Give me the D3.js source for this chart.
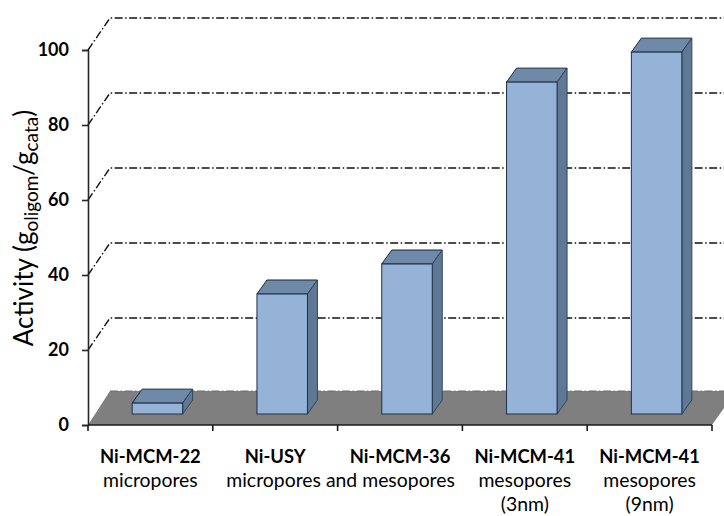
<!DOCTYPE html>
<html>
<head>
<meta charset="utf-8">
<script src="https://cdn.jsdelivr.net/npm/d3@7"></script>
<style>
html,body{margin:0;padding:0;background:#fff}
svg{display:block}
text{font-family:Lato,"Open Sans",sans-serif;fill:#000}
</style>
</head>
<body>
<svg id="chart" width="724" height="516"></svg>
<script>
const catalysts = ["Ni-MCM-22", "Ni-USY", "Ni-MCM-36", "Ni-MCM-41", "Ni-MCM-41"];
const poreLines = [["micropores"], [], [], ["mesopores", "(3nm)"], ["mesopores", "(9nm)"]];
const sharedPoreLabel = "micropores and mesopores";
const activity = [2.9, 32, 40, 88.5, 96.5];
const yTicks = [0, 20, 40, 60, 80, 100];

const svg = d3.select("#chart");
const x = d3.scaleBand().domain(d3.range(catalysts.length)).range([88, 712]);
const y = d3.scaleLinear().domain([0, 100]).range([425, 50]);

// Oblique projection: wall depth, and half-depth placement of the columns
const wall = {dx: 22, dy: -32};
const col = {dx: 10, dy: -14, baseX: 7, baseY: -11, width: 50.5};

// Floor
svg.append("polygon")
  .attr("points", [[88, y(0)], [88 + wall.dx, y(0) + wall.dy - 2], [740, y(0) + wall.dy - 2], [724, 408], [712, y(0)]].join(" "))
  .attr("fill", "#7f7f7f");
svg.append("line")
  .attr("x1", 88 + wall.dx).attr("x2", 724)
  .attr("y1", y(0) + wall.dy - 2).attr("y2", y(0) + wall.dy - 2)
  .attr("stroke", "#6d6d6d").attr("stroke-width", 1).attr("stroke-dasharray", "8 2.5 1.5 2.5");

// Dash-dot gridlines bent along the side wall and running across the back wall
const gridPath = v => `M88,${y(v)}L${88 + wall.dx},${y(v) + wall.dy}H724`;
svg.append("g").selectAll("path")
  .data(yTicks.filter(v => v > 0))
  .join("path")
  .attr("d", gridPath)
  .attr("fill", "none")
  .attr("stroke", "#111")
  .attr("stroke-width", 1.4)
  .attr("stroke-dasharray", "8 2.5 1.5 2.5");

// Columns: top, side, front
const bars = svg.append("g").selectAll("g")
  .data(activity)
  .join("g");
const left = (d, i) => x(i) + (x.bandwidth() - col.width) / 2 + col.baseX;
const base = y(0) + col.baseY;
const topY = d => base - (y(0) - y(d));

bars.append("polygon")
  .attr("points", (d, i) => {
    const l = left(d, i), r = l + col.width, t = topY(d);
    return [[l, t], [l + col.dx, t + col.dy], [r + col.dx, t + col.dy], [r, t]].join(" ");
  })
  .attr("fill", "#6f89a9").attr("stroke", "#16283c").attr("stroke-width", 1);
bars.append("polygon")
  .attr("points", (d, i) => {
    const r = left(d, i) + col.width, t = topY(d);
    return [[r, t], [r + col.dx, t + col.dy], [r + col.dx, base + col.dy], [r, base]].join(" ");
  })
  .attr("fill", "#5f7896").attr("stroke", "#33465c").attr("stroke-width", 1);
bars.append("rect")
  .attr("x", (d, i) => left(d, i))
  .attr("y", d => topY(d))
  .attr("width", col.width)
  .attr("height", d => base - topY(d))
  .attr("fill", "#95b3d7").attr("stroke", "#1f3147").attr("stroke-width", 1);

// Axes
const yAxis = d3.axisLeft(y).tickValues(yTicks).tickSize(6).tickPadding(13);
const gy = svg.append("g").attr("transform", "translate(88,0)").call(yAxis);
gy.selectAll("path,line").attr("stroke", "#262626").attr("stroke-width", 1.6);
gy.selectAll("text").attr("font-size", 18).attr("font-weight", 700).attr("fill", "#000").attr("font-family", "Lato");

const xEdges = d3.range(catalysts.length + 1).map(i => 88 + i * x.step());
const gx = svg.append("g");
gx.append("line").attr("x1", 88).attr("x2", 712).attr("y1", y(0)).attr("y2", y(0))
  .attr("stroke", "#1a1a1a").attr("stroke-width", 1.6);
gx.selectAll("line.tick").data(xEdges).join("line").attr("class", "tick")
  .attr("x1", d => d).attr("x2", d => d).attr("y1", y(0)).attr("y2", y(0) + 6)
  .attr("stroke", "#1a1a1a").attr("stroke-width", 1.6);

// Category labels
const labels = svg.append("g").attr("text-anchor", "middle");
catalysts.forEach((name, i) => {
  const cx = x(i) + x.bandwidth() / 2;
  labels.append("text").attr("x", cx).attr("y", 463).attr("font-size", 18.4).attr("font-weight", 700).text(name);
  poreLines[i].forEach((line, j) => {
    labels.append("text").attr("x", cx).attr("y", 487 + j * 24).attr("font-size", 19.4).text(line);
  });
});
// One pore description shared by the second and third catalysts
labels.append("text")
  .attr("x", x(2) + 3).attr("y", 487).attr("font-size", 19.4)
  .text(sharedPoreLabel);

// Axis title with subscripts
const title = svg.append("text")
  .attr("transform", "translate(33,228) rotate(-90)")
  .attr("text-anchor", "middle")
  .attr("font-size", 26);
title.append("tspan").text("Activity (g");
title.append("tspan").attr("font-size", 19).attr("dy", 5).text("oligom");
title.append("tspan").attr("dy", -5).text("/g");
title.append("tspan").attr("font-size", 19).attr("dy", 5).text("cata");
title.append("tspan").attr("dy", -5).text(")");
</script>
</body>
</html>
